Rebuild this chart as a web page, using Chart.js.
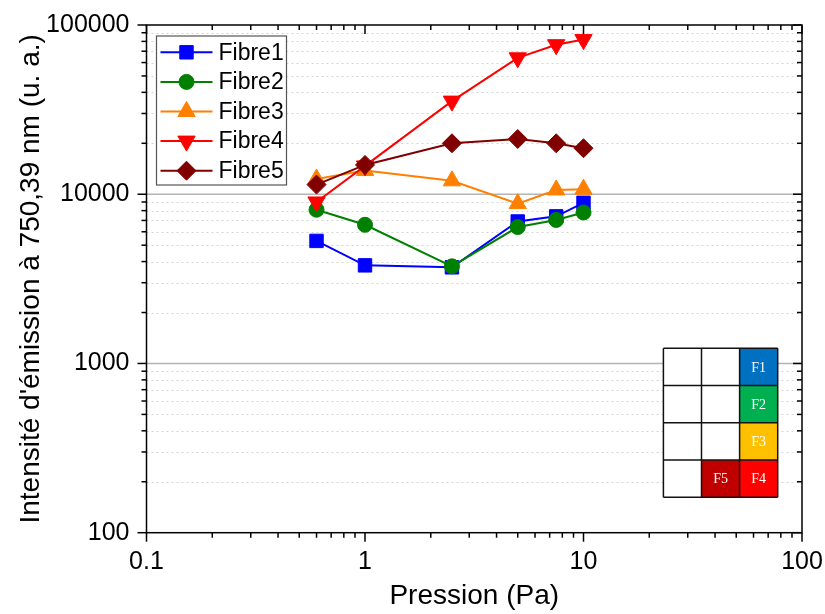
<!DOCTYPE html>
<html>
<head>
<meta charset="utf-8">
<script src="https://cdn.jsdelivr.net/npm/chart.js@4.4.1/dist/chart.umd.min.js"></script>
<style>
html,body{margin:0;padding:0;background:#fff;}
#wrap{width:825px;height:614px;position:relative;}
</style>
</head>
<body>
<div id="wrap"><canvas id="c" width="825" height="614"></canvas></div>
<script>
// ---- data ----
const pressure = [0.6, 1, 2.5, 5, 7.5, 10];
const seriesNames = ['Fibre1', 'Fibre2', 'Fibre3', 'Fibre4', 'Fibre5'];
const fibre1 = [5300, 3800, 3700, 6900, 7400, 8900];
const fibre2 = [8100, 6600, 3750, 6400, 7050, 7800];
const fibre3 = [12300, 13800, 12000, 8800, 10600, 10700];
const fibre4 = [9000, 14700, 35500, 64000, 76500, 82000];
const fibre5 = [11400, 14900, 20000, 21200, 20000, 18700];
const xTickValues = [0.1, 1, 10, 100];
const yTickValues = [100, 1000, 10000, 100000];
const xTitle = 'Pression (Pa)';
const yTitle = "Intensité d'émission à 750,39 nm (u. a.)";
const insetLabels = ['F1', 'F2', 'F3', 'F4', 'F5'];

// ---- styles ----
const seriesValues = [fibre1, fibre2, fibre3, fibre4, fibre5];
const colors = ['#0000FF', '#008000', '#FF8000', '#FF0000', '#800000'];
const pStyles = ['rect', 'circle', 'triangle', 'triangle', 'rectRot'];
const pRot = [0, 0, 0, 180, 0];
const pRad = [9.5, 7.5, 10, 10, 9.5];
const FONT = "'Liberation Sans', Arial, sans-serif";

const datasets = seriesNames.map((name, i) => ({
  label: name,
  data: pressure.map((p, j) => ({x: p, y: seriesValues[i][j]})),
  borderColor: colors[i],
  backgroundColor: colors[i],
  pointBackgroundColor: colors[i],
  pointBorderColor: colors[i],
  pointStyle: pStyles[i],
  pointRotation: pRot[i],
  pointRadius: pRad[i],
  pointBorderWidth: 1,
  borderWidth: 2,
  tension: 0,
  order: seriesNames.length - i
}));

function minorValues(min, max) {
  const out = [];
  const d0 = Math.floor(Math.log10(min) + 1e-9), d1 = Math.ceil(Math.log10(max) - 1e-9);
  for (let d = d0; d < d1; d++) {
    for (let m = 2; m <= 9; m++) out.push(m * Math.pow(10, d));
  }
  return out.filter(v => v > min && v < max);
}

const framePlugin = {
  id: 'frame',
  beforeDatasetsDraw(chart) {
    const {ctx, chartArea: a, scales: {x, y}} = chart;
    ctx.save();
    ctx.lineWidth = 1;
    ctx.strokeStyle = '#d4d4d4';
    ctx.setLineDash([2, 3]);
    minorValues(y.min, y.max).forEach(v => {
      const py = Math.round(y.getPixelForValue(v)) + 0.5;
      ctx.beginPath(); ctx.moveTo(a.left, py); ctx.lineTo(a.right, py); ctx.stroke();
    });
    ctx.setLineDash([]);
    ctx.strokeStyle = '#b4b4b4';
    ctx.lineWidth = 1.5;
    yTickValues.forEach(v => {
      if (v > y.min && v < y.max) {
        const py = y.getPixelForValue(v);
        ctx.beginPath(); ctx.moveTo(a.left, py); ctx.lineTo(a.right, py); ctx.stroke();
      }
    });
    ctx.restore();
  },
  afterDatasetsDraw(chart) {
    const {ctx, chartArea: a, scales: {x, y}} = chart;
    ctx.save();
    ctx.strokeStyle = '#000';
    ctx.lineWidth = 1.5;
    ctx.strokeRect(a.left, a.top, a.right - a.left, a.bottom - a.top);
    const seg = (x0, y0, x1, y1) => { ctx.beginPath(); ctx.moveTo(x0, y0); ctx.lineTo(x1, y1); ctx.stroke(); };
    const MAJ = 9, MIN = 5;
    xTickValues.forEach(v => { const px = x.getPixelForValue(v); seg(px, a.bottom, px, a.bottom + MAJ); seg(px, a.top, px, a.top + MAJ); });
    minorValues(x.min, x.max).forEach(v => { const px = x.getPixelForValue(v); seg(px, a.bottom, px, a.bottom + MIN); seg(px, a.top, px, a.top + MIN); });
    yTickValues.forEach(v => { const py = y.getPixelForValue(v); seg(a.left - MAJ, py, a.left, py); seg(a.right - MAJ, py, a.right, py); });
    minorValues(y.min, y.max).forEach(v => { const py = y.getPixelForValue(v); seg(a.left - MIN, py, a.left, py); seg(a.right - MIN, py, a.right, py); });
    ctx.restore();

    // legend
    ctx.save();
    const lx = a.left + 10, ly = a.top + 11, lw = 130, lh = 149;
    ctx.fillStyle = '#fff';
    ctx.fillRect(lx, ly, lw, lh);
    ctx.strokeStyle = '#555';
    ctx.lineWidth = 1.2;
    ctx.strokeRect(lx, ly, lw, lh);
    chart.data.datasets.forEach((ds, i) => {
      const cy = ly + 16.3 + i * 29.6;
      ctx.strokeStyle = ds.borderColor;
      ctx.lineWidth = 2;
      ctx.beginPath(); ctx.moveTo(lx + 4, cy); ctx.lineTo(lx + 56, cy); ctx.stroke();
      ctx.fillStyle = ds.pointBackgroundColor;
      ctx.strokeStyle = ds.pointBorderColor;
      ctx.lineWidth = 1;
      Chart.helpers.drawPoint(ctx, {pointStyle: ds.pointStyle, rotation: ds.pointRotation, radius: ds.pointRadius, borderWidth: 1}, lx + 30, cy);
      ctx.fillStyle = '#000';
      ctx.font = '23px ' + FONT;
      ctx.textAlign = 'left';
      ctx.textBaseline = 'middle';
      ctx.fillText(ds.label, lx + 62, cy + 1);
    });
    ctx.restore();

    // inset (fibre positions table)
    ctx.save();
    const cw = 38.1, ch = 37.25;
    const tx = a.right - 24.3 - 3 * cw, ty = a.bottom - 35.4 - 4 * ch;
    const cells = [
      {r: 0, c: 2, col: '#0070C0', t: insetLabels[0]},
      {r: 1, c: 2, col: '#00B050', t: insetLabels[1]},
      {r: 2, c: 2, col: '#FFC000', t: insetLabels[2]},
      {r: 3, c: 2, col: '#FF0000', t: insetLabels[3]},
      {r: 3, c: 1, col: '#C00000', t: insetLabels[4]}
    ];
    ctx.fillStyle = '#fff';
    ctx.fillRect(tx, ty, 3 * cw, 4 * ch);
    cells.forEach(cl => {
      ctx.fillStyle = cl.col;
      ctx.fillRect(tx + cl.c * cw, ty + cl.r * ch, cw, ch);
    });
    ctx.strokeStyle = '#111';
    ctx.lineWidth = 1.5;
    for (let r = 0; r <= 4; r++) { ctx.beginPath(); ctx.moveTo(tx, ty + r * ch); ctx.lineTo(tx + 3 * cw, ty + r * ch); ctx.stroke(); }
    for (let c = 0; c <= 3; c++) { ctx.beginPath(); ctx.moveTo(tx + c * cw, ty); ctx.lineTo(tx + c * cw, ty + 4 * ch); ctx.stroke(); }
    ctx.fillStyle = '#fff';
    ctx.font = "14px 'Liberation Serif', 'Times New Roman', serif";
    ctx.textAlign = 'center';
    ctx.textBaseline = 'middle';
    cells.forEach(cl => ctx.fillText(cl.t, tx + (cl.c + 0.5) * cw, ty + (cl.r + 0.5) * ch + 1));
    ctx.restore();
  }
};

new Chart(document.getElementById('c'), {
  type: 'line',
  data: {datasets},
  options: {
    responsive: false,
    animation: false,
    devicePixelRatio: 1,
    layout: {padding: {top: 25, right: 23, bottom: 0, left: 0}},
    plugins: {legend: {display: false}, tooltip: {enabled: false}},
    scales: {
      x: {
        type: 'logarithmic',
        min: 0.1, max: 100,
        afterBuildTicks: s => { s.ticks = xTickValues.map(v => ({value: v, major: true})); },
        afterFit: s => { s.height = 81.3; s.paddingLeft = 0; s.paddingRight = 0; },
        grid: {display: false, drawTicks: false, tickLength: 0},
        border: {display: false},
        ticks: {color: '#000', font: {family: FONT, size: 25}, padding: 14, maxRotation: 0, autoSkip: false,
          callback: v => String(v)},
        title: {display: true, text: xTitle, color: '#000', font: {family: FONT, size: 28}, padding: {top: 0, bottom: 1}}
      },
      y: {
        type: 'logarithmic',
        min: 100, max: 100000,
        afterBuildTicks: s => { s.ticks = yTickValues.map(v => ({value: v, major: true})); },
        afterFit: s => { s.width = 146.5; s.paddingTop = 0; s.paddingBottom = 0; },
        grid: {display: false, drawTicks: false, tickLength: 0},
        border: {display: false},
        ticks: {color: '#000', font: {family: FONT, size: 25}, padding: 17, autoSkip: false,
          callback: v => String(v)},
        title: {display: true, text: yTitle, color: '#000', font: {family: FONT, size: 28}, padding: {top: 14, bottom: 0}}
      }
    }
  },
  plugins: [framePlugin]
});
</script>
</body>
</html>
